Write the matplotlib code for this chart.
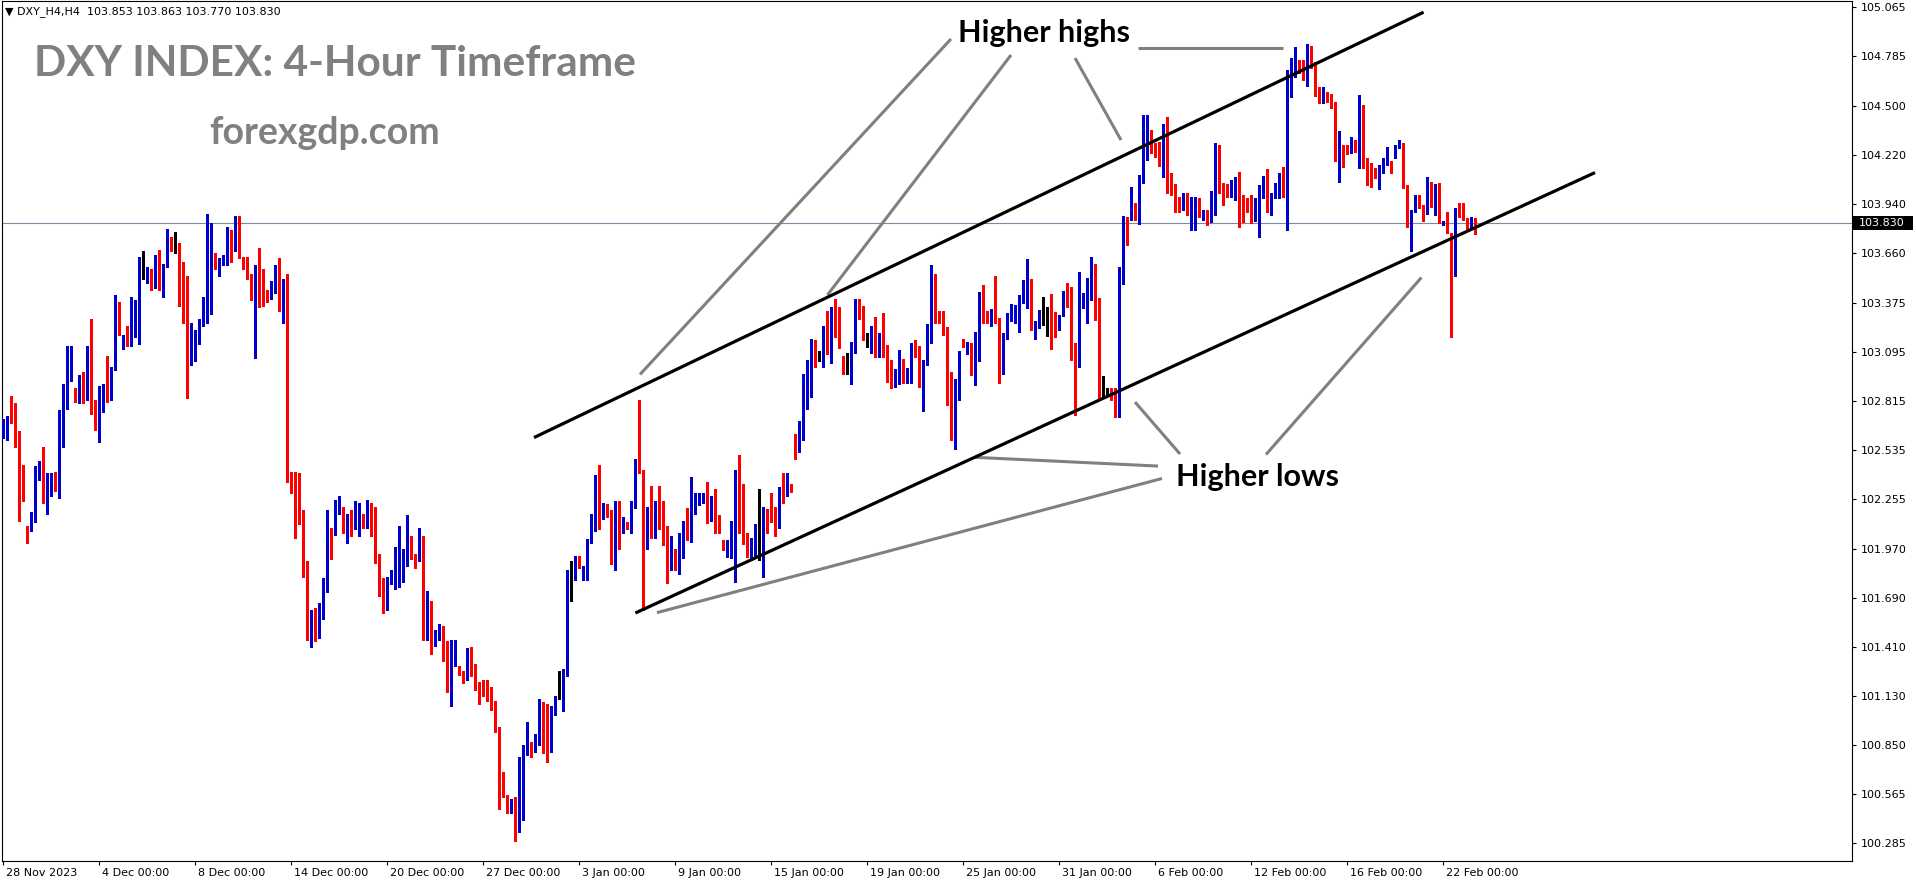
import numpy as np
import matplotlib
matplotlib.use("Agg")
import matplotlib.pyplot as plt
from matplotlib.transforms import blended_transform_factory, ScaledTranslation
from matplotlib.patches import Rectangle

# ---------------- data (H4 candles, 28 Nov 2023 .. 23 Feb 2024) ----------------
opens = [
    102.63, 102.66, 102.72, 102.71, 102.57, 102.32, 102.10, 102.08, 102.15, 102.41,
    102.45, 102.35, 102.28, 102.39, 102.34, 102.73, 102.90, 103.04, 102.88, 102.82,
    102.86, 102.85, 103.13, 102.77, 102.69, 102.83, 102.89, 102.86, 102.99, 103.26,
    103.11, 103.18, 103.13, 103.24, 103.26, 103.52, 103.52, 103.55, 103.46, 103.56,
    103.46, 103.60, 103.73, 103.73, 103.72, 103.39, 103.33, 103.02, 103.12, 103.18,
    103.27, 103.38, 103.60, 103.63, 103.615, 103.62, 103.63, 103.69, 103.67, 103.855,
    103.63, 103.62, 103.53, 103.42, 103.57, 103.50, 103.415, 103.40, 103.44, 103.53,
    103.34, 103.49, 102.33, 102.32, 102.21, 102.14, 101.87, 101.52, 101.58, 101.48,
    101.60, 101.75, 102.09, 102.05, 102.17, 102.21, 102.08, 102.09, 102.08, 102.09,
    102.12, 102.12, 102.16, 102.13, 101.91, 101.75, 101.66, 101.79, 101.78, 101.84,
    101.87, 101.91, 102.00, 101.93, 101.905, 102.01, 101.53, 101.59, 101.425, 101.49,
    101.51, 101.41, 101.17, 101.33, 101.29, 101.26, 101.23, 101.37, 101.28, 101.19,
    101.19, 101.17, 101.11, 101.06, 100.95, 100.64, 100.55, 100.46, 100.53, 100.375,
    100.77, 100.80, 100.85, 100.82, 100.85, 101.09, 101.07, 100.81, 101.07, 101.115,
    101.10, 101.26, 101.83, 101.83, 101.92, 101.84, 101.85, 102.02, 102.17, 102.40,
    102.14, 102.21, 102.19, 101.89, 102.15, 102.105, 102.11, 102.10, 102.20, 102.43,
    102.41, 102.10, 102.105, 102.08, 102.19, 102.175, 102.10, 101.90, 101.94, 101.85,
    101.98, 102.045, 102.03, 102.195, 102.23, 102.236, 102.236, 102.14, 102.236, 102.10,
    102.02, 101.977, 101.98, 101.98, 102.40, 102.33, 102.02, 101.93, 102.02, 102.08,
    102.072, 102.19, 102.17, 102.16, 102.12, 102.295, 102.286, 102.34, 102.56, 102.52,
    102.67, 102.93, 102.99, 103.16, 103.07, 103.07, 103.325, 103.11, 103.27, 103.24,
    103.05, 103.03, 103.02, 103.10, 103.388, 103.315, 103.14, 103.14, 103.216, 103.115,
    103.167, 103.09, 103.025, 102.953, 102.976, 103.006, 102.968, 102.991, 103.12, 103.087,
    102.905, 103.025, 103.15, 103.52, 103.29, 103.265, 103.235, 102.86, 102.60, 102.82,
    103.167, 103.12, 103.13, 102.97, 103.04, 103.38, 103.325, 103.27, 103.306, 103.277,
    103.025, 103.186, 103.27, 103.315, 103.33, 103.38, 103.445, 103.478, 103.18, 103.24,
    103.315, 103.315, 103.315, 103.306, 103.224, 103.306, 103.407, 103.40, 103.10, 103.01,
    103.357, 103.40, 103.464, 103.50, 103.403, 102.88, 102.867, 102.867, 102.858, 102.767,
    103.56, 103.853, 103.853, 103.895, 103.864, 104.082, 104.265, 104.303, 104.278, 104.246,
    104.17, 104.379, 104.115, 104.055, 103.982, 103.925, 103.954, 103.896, 103.896, 103.944,
    103.864, 103.883, 103.883, 103.896, 104.272, 104.045, 104.043, 104.016, 104.062, 104.083,
    103.954, 103.948, 103.969, 103.858, 103.902, 104.024, 104.078, 103.906, 103.988, 104.043,
    104.078, 104.055, 104.649, 104.687, 104.735, 104.735, 104.657, 104.817, 104.748, 104.582,
    104.529, 104.573, 104.569, 104.525, 104.249, 104.272, 104.259, 104.245, 104.291, 104.249,
    104.436, 104.154, 104.173, 104.112, 104.10, 104.119, 104.169, 104.188, 104.234, 104.264,
    104.281, 104.049, 103.826, 103.906, 103.948, 103.925, 103.891, 104.039, 103.948, 103.992,
    103.826, 103.845, 103.776, 103.582, 103.906, 103.896, 103.858, 103.82, 103.853,
]
highs = [
    102.71, 102.73, 102.84, 102.80, 102.64, 102.45, 102.10, 102.18, 102.44, 102.47,
    102.55, 102.40, 102.40, 102.41, 102.76, 102.91, 103.13, 103.13, 102.89, 102.96,
    102.98, 103.13, 103.28, 102.82, 102.90, 102.91, 103.07, 103.01, 103.42, 103.38,
    103.19, 103.24, 103.41, 103.39, 103.64, 103.67, 103.58, 103.57, 103.65, 103.68,
    103.60, 103.80, 103.75, 103.78, 103.72, 103.61, 103.53, 103.26, 103.22, 103.28,
    103.41, 103.885, 103.83, 103.66, 103.63, 103.65, 103.81, 103.79, 103.87, 103.87,
    103.64, 103.64, 103.54, 103.59, 103.69, 103.57, 103.45, 103.50, 103.59, 103.63,
    103.51, 103.54, 102.41, 102.41, 102.40, 102.19, 101.90, 101.62, 101.63, 101.66,
    101.80, 102.19, 102.09, 102.25, 102.27, 102.21, 102.17, 102.19, 102.24, 102.23,
    102.17, 102.25, 102.23, 102.21, 101.94, 101.80, 101.81, 101.85, 101.98, 102.10,
    101.97, 102.16, 102.04, 101.94, 102.09, 102.04, 101.73, 101.67, 101.505, 101.54,
    101.53, 101.44, 101.45, 101.45, 101.30, 101.27, 101.40, 101.41, 101.31, 101.21,
    101.22, 101.22, 101.18, 101.10, 100.95, 100.69, 100.56, 100.54, 100.55, 100.78,
    100.85, 100.98, 100.866, 100.91, 101.11, 101.095, 101.08, 101.07, 101.13, 101.27,
    101.28, 101.85, 101.90, 101.93, 101.93, 101.87, 102.023, 102.17, 102.39, 102.45,
    102.23, 102.225, 102.19, 102.24, 102.24, 102.15, 102.12, 102.24, 102.48, 102.82,
    102.42, 102.21, 102.33, 102.24, 102.33, 102.24, 102.10, 102.04, 101.97, 102.06,
    102.13, 102.20, 102.38, 102.29, 102.29, 102.29, 102.35, 102.27, 102.31, 102.16,
    102.02, 102.02, 102.13, 102.42, 102.505, 102.34, 102.06, 102.03, 102.11, 102.31,
    102.21, 102.195, 102.29, 102.21, 102.32, 102.40, 102.40, 102.34, 102.625, 102.70,
    102.97, 103.05, 103.17, 103.16, 103.10, 103.24, 103.33, 103.35, 103.40, 103.35,
    103.07, 103.09, 103.15, 103.40, 103.40, 103.36, 103.20, 103.24, 103.296, 103.20,
    103.315, 103.134, 103.048, 102.995, 103.106, 103.052, 103.00, 103.144, 103.163, 103.129,
    103.048, 103.254, 103.59, 103.54, 103.33, 103.33, 103.235, 102.98, 102.94, 103.10,
    103.17, 103.15, 103.144, 103.21, 103.44, 103.48, 103.33, 103.34, 103.53, 103.287,
    103.205, 103.32, 103.37, 103.363, 103.42, 103.506, 103.624, 103.514, 103.27, 103.334,
    103.407, 103.353, 103.426, 103.325, 103.306, 103.445, 103.49, 103.468, 103.144, 103.554,
    103.43, 103.515, 103.635, 103.597, 103.403, 102.957, 102.886, 102.886, 102.886, 103.58,
    103.874, 103.868, 104.04, 103.944, 104.106, 104.45, 104.45, 104.364, 104.287, 104.297,
    104.398, 104.436, 104.115, 104.055, 103.982, 104.001, 104.001, 103.982, 103.982, 103.973,
    103.906, 103.906, 104.015, 104.287, 104.278, 104.058, 104.055, 104.078, 104.093, 104.125,
    103.992, 103.973, 103.992, 103.973, 104.049, 104.10, 104.138, 104.001, 104.058, 104.115,
    104.15, 104.706, 104.773, 104.836, 104.764, 104.764, 104.855, 104.844, 104.754, 104.607,
    104.607, 104.58, 104.569, 104.525, 104.36, 104.278, 104.278, 104.325, 104.306, 104.563,
    104.506, 104.201, 104.173, 104.144, 104.163, 104.201, 104.264, 104.188, 104.278, 104.306,
    104.287, 104.049, 103.906, 103.992, 103.992, 103.935, 104.097, 104.068, 104.055, 104.062,
    103.845, 103.896, 103.776, 103.915, 103.948, 103.948, 103.858, 103.868, 103.863,
]
lows = [
    102.60, 102.59, 102.69, 102.55, 102.13, 102.24, 102.00, 102.07, 102.12, 102.36,
    102.23, 102.17, 102.27, 102.30, 102.26, 102.55, 102.77, 102.93, 102.81, 102.80,
    102.80, 102.82, 102.74, 102.65, 102.58, 102.75, 102.81, 102.82, 102.99, 103.19,
    103.11, 103.13, 103.13, 103.18, 103.14, 103.51, 103.49, 103.45, 103.46, 103.45,
    103.41, 103.58, 103.67, 103.66, 103.36, 103.26, 102.83, 103.02, 103.04, 103.14,
    103.24, 103.26, 103.31, 103.57, 103.53, 103.59, 103.59, 103.61, 103.67, 103.63,
    103.57, 103.51, 103.39, 103.06, 103.35, 103.36, 103.38, 103.40, 103.43, 103.33,
    103.26, 102.35, 102.29, 102.03, 102.11, 101.81, 101.45, 101.41, 101.44, 101.46,
    101.57, 101.72, 101.91, 102.05, 102.17, 102.06, 102.00, 102.04, 102.08, 102.04,
    102.09, 102.09, 102.04, 101.89, 101.70, 101.60, 101.62, 101.77, 101.74, 101.75,
    101.78, 101.87, 101.91, 101.86, 101.90, 101.45, 101.45, 101.37, 101.413, 101.45,
    101.33, 101.15, 101.07, 101.30, 101.25, 101.20, 101.22, 101.24, 101.16, 101.08,
    101.13, 101.10, 101.05, 100.92, 100.48, 100.55, 100.46, 100.46, 100.30, 100.35,
    100.42, 100.79, 100.78, 100.81, 100.85, 100.80, 100.75, 100.81, 101.02, 101.11,
    101.04, 101.24, 101.67, 101.79, 101.86, 101.79, 101.79, 102.00, 102.07, 102.08,
    102.14, 102.15, 101.88, 101.85, 101.97, 102.06, 102.08, 102.06, 102.20, 102.40,
    101.62, 101.97, 102.03, 102.03, 102.08, 101.99, 101.775, 101.85, 101.85, 101.825,
    101.915, 102.02, 102.01, 102.17, 102.22, 102.23, 102.115, 102.13, 102.06, 102.06,
    101.96, 101.92, 101.915, 101.78, 102.06, 101.996, 101.92, 101.905, 101.92, 101.905,
    101.81, 102.06, 102.12, 102.04, 102.09, 102.23, 102.27, 102.295, 102.48, 102.52,
    102.59, 102.77, 102.835, 103.01, 103.04, 103.01, 103.08, 103.03, 103.18, 103.115,
    102.97, 102.97, 102.91, 103.09, 103.28, 103.16, 103.12, 103.09, 103.064, 103.068,
    103.064, 102.925, 102.89, 102.896, 102.91, 102.919, 102.915, 102.915, 103.068, 102.896,
    102.759, 103.02, 103.148, 103.26, 103.26, 103.19, 102.79, 102.59, 102.54, 102.82,
    103.12, 103.08, 102.963, 102.905, 103.04, 103.26, 103.26, 103.24, 103.26, 102.915,
    102.97, 103.17, 103.27, 103.26, 103.21, 103.372, 103.344, 103.22, 103.17, 103.23,
    103.25, 103.186, 103.11, 103.18, 103.22, 103.30, 103.353, 103.048, 102.734, 103.01,
    103.344, 103.26, 103.39, 103.277, 102.83, 102.84, 102.848, 102.82, 102.725, 102.72,
    103.483, 103.706, 103.849, 103.849, 103.826, 104.059, 104.192, 104.23, 104.211, 104.158,
    104.097, 104.001, 103.992, 103.896, 103.896, 103.906, 103.877, 103.791, 103.791, 103.868,
    103.849, 103.82, 103.839, 103.877, 104.001, 103.935, 103.982, 103.982, 103.963, 103.81,
    103.839, 103.896, 103.83, 103.845, 103.75, 103.973, 103.896, 103.877, 103.973, 103.973,
    103.978, 103.791, 104.554, 104.668, 104.687, 104.649, 104.615, 104.716, 104.558, 104.52,
    104.52, 104.525, 104.487, 104.188, 104.068, 104.15, 104.226, 104.234, 104.24, 104.144,
    104.144, 104.049, 104.036, 104.087, 104.024, 104.115, 104.163, 104.115, 104.201, 104.259,
    104.03, 103.81, 103.673, 103.896, 103.915, 103.845, 103.883, 103.925, 103.877, 103.834,
    103.82, 103.772, 103.178, 103.528, 103.868, 103.849, 103.791, 103.81, 103.770,
]
closes = [
    102.66, 102.71, 102.70, 102.57, 102.32, 102.28, 102.08, 102.14, 102.41, 102.45,
    102.35, 102.39, 102.39, 102.35, 102.73, 102.90, 103.04, 103.05, 102.83, 102.86,
    102.85, 103.12, 102.76, 102.74, 102.83, 102.89, 102.86, 102.99, 103.27, 103.20,
    103.18, 103.13, 103.24, 103.27, 103.52, 103.52, 103.53, 103.46, 103.56, 103.46,
    103.60, 103.76, 103.72, 103.73, 103.39, 103.33, 103.02, 103.23, 103.19, 103.27,
    103.38, 103.61, 103.63, 103.59, 103.63, 103.64, 103.70, 103.68, 103.85, 103.67,
    103.62, 103.52, 103.42, 103.57, 103.50, 103.40, 103.40, 103.44, 103.53, 103.34,
    103.49, 102.55, 102.31, 102.21, 102.11, 101.87, 101.52, 101.58, 101.48, 101.60,
    101.75, 102.09, 102.06, 102.14, 102.21, 102.08, 102.09, 102.08, 102.10, 102.12,
    102.10, 102.16, 102.13, 101.89, 101.75, 101.66, 101.79, 101.83, 101.85, 101.885,
    101.91, 102.04, 101.93, 101.905, 102.00, 101.54, 101.59, 101.37, 101.495, 101.51,
    101.41, 101.18, 101.33, 101.36, 101.26, 101.23, 101.37, 101.28, 101.19, 101.10,
    101.16, 101.11, 101.05, 100.95, 100.63, 100.61, 100.46, 100.53, 100.375, 100.78,
    100.80, 100.90, 100.81, 100.86, 101.09, 101.07, 100.80, 101.07, 101.12, 101.115,
    101.26, 101.83, 101.83, 101.925, 101.87, 101.85, 102.02, 102.166, 102.30, 102.10,
    102.21, 102.17, 101.89, 102.15, 102.11, 102.13, 102.09, 102.21, 102.44, 102.42,
    102.10, 102.14, 102.08, 102.19, 102.175, 102.10, 101.90, 102.01, 101.85, 102.05,
    102.05, 102.035, 102.195, 102.23, 102.233, 102.25, 102.14, 102.236, 102.09, 102.07,
    101.97, 101.99, 102.11, 102.41, 102.34, 102.06, 101.93, 102.02, 102.08, 102.08,
    102.19, 102.07, 102.16, 102.12, 102.294, 102.29, 102.34, 102.295, 102.515, 102.67,
    102.93, 102.995, 103.16, 103.07, 103.07, 103.22, 103.16, 103.27, 103.20, 103.125,
    103.02, 103.03, 103.10, 103.38, 103.316, 103.17, 103.14, 103.21, 103.115, 103.167,
    103.064, 103.014, 102.95, 102.976, 103.006, 102.953, 102.991, 103.125, 103.077, 102.905,
    103.025, 103.157, 103.53, 103.34, 103.26, 103.22, 102.85, 102.61, 102.82, 103.03,
    103.125, 103.13, 102.97, 103.04, 103.38, 103.27, 103.27, 103.306, 103.277, 103.02,
    103.186, 103.27, 103.32, 103.33, 103.38, 103.449, 103.483, 103.26, 103.243, 103.325,
    103.315, 103.315, 103.29, 103.197, 103.306, 103.407, 103.40, 103.096, 103.007, 103.32,
    103.395, 103.464, 103.506, 103.40, 102.88, 102.88, 102.867, 102.84, 102.767, 103.56,
    103.855, 103.742, 103.895, 103.864, 104.093, 104.303, 104.303, 104.278, 104.246, 104.17,
    104.373, 104.049, 104.001, 103.982, 103.915, 103.963, 103.891, 103.906, 103.954, 103.896,
    103.877, 103.877, 103.906, 104.272, 104.039, 103.992, 104.016, 104.062, 104.083, 103.948,
    103.944, 103.925, 103.864, 103.906, 104.036, 104.078, 103.906, 103.988, 104.039, 104.078,
    104.055, 104.697, 104.754, 104.752, 104.697, 104.659, 104.817, 104.748, 104.563, 104.525,
    104.578, 104.563, 104.52, 104.245, 104.278, 104.154, 104.24, 104.295, 104.249, 104.443,
    104.154, 104.125, 104.106, 104.093, 104.131, 104.182, 104.182, 104.119, 104.268, 104.272,
    104.049, 103.826, 103.906, 103.954, 103.925, 103.891, 104.039, 103.948, 103.992, 103.915,
    103.839, 103.776, 103.578, 103.896, 103.891, 103.852, 103.82, 103.858, 103.830,
]

date_tick_bars = [0, 24, 48, 72, 96, 120, 144, 168, 192, 216, 240, 264, 288, 312, 336, 360]
date_tick_labels = ["28 Nov 2023", "4 Dec 00:00", "8 Dec 00:00", "14 Dec 00:00", "20 Dec 00:00",
                    "27 Dec 00:00", "3 Jan 00:00", "9 Jan 00:00", "15 Jan 00:00", "19 Jan 00:00",
                    "25 Jan 00:00", "31 Jan 00:00", "6 Feb 00:00", "12 Feb 00:00", "16 Feb 00:00",
                    "22 Feb 00:00"]
price_ticks = [105.065, 104.785, 104.500, 104.220, 103.940, 103.660, 103.375, 103.095, 102.815,
               102.535, 102.255, 101.970, 101.690, 101.410, 101.130, 100.850, 100.565, 100.285]
last_price = 103.830
header_text = "\u25BC DXY_H4,H4  103.853 103.863 103.770 103.830"
title_text = "DXY INDEX: 4-Hour Timeframe"
site_text = "forexgdp.com"

# channel and pointer lines, as (bar index, price) end points
channel_upper = ([132.75, 355.15], [102.605, 105.037])
channel_lower = ([158.1, 398.0], [101.602, 104.120])
highs_pointers = [([237.0, 159.25], [104.884, 102.966]),
                  ([252.0, 206.1], [104.792, 103.420]),
                  ([268.0, 279.5], [104.775, 104.306]),
                  ([283.75, 320.0], [104.834, 104.834])]
lows_pointers = [([283.0, 294.25], [102.808, 102.511]),
                 ([354.6, 315.75], [103.52, 102.508]),
                 ([243.0, 288.75], [102.492, 102.442]),
                 ([163.5, 289.75], [101.604, 102.371])]
label_highs = (260.25, 104.864, "Higher highs")
label_lows = (313.75, 102.327, "Higher lows")

# ---------------- figure ----------------
W, H, DPI = 1916, 884, 100
fig = plt.figure(figsize=(W / DPI, H / DPI), dpi=DPI, facecolor="white")
ax_left, ax_right, ax_top, ax_bot = 2, 1852, 1, 861
ax = fig.add_axes([ax_left / W, 1 - ax_bot / H, (ax_right - ax_left) / W, (ax_bot - ax_top) / H])
ax.set_facecolor("white")
ax.set_xlim(-0.25, 462.25)
ax.set_ylim(100.184, 105.101)

BLUE = "#0000CD"
RED = "#FF0000"

o = np.array(opens); hh = np.array(highs); ll = np.array(lows); c = np.array(closes)
hh = np.maximum(hh, np.maximum(o, c))
ll = np.minimum(ll, np.minimum(o, c))
x = np.arange(len(o))
cols = np.where(c > o, BLUE, np.where(c < o, RED, "black"))
one_px = (105.101 - 100.184) / (ax_bot - ax_top)
bot = np.minimum(o, c)
hgt = np.abs(c - o)
small = hgt < one_px
bot = np.where(small, (o + c) / 2 - one_px / 2, bot)
hgt = np.where(small, one_px, hgt)

ax.axhline(last_price, color="#7A8C9E", lw=0.8, zorder=1)
ax.vlines(x, ll, hh, colors=cols, linewidth=0.8, antialiased=False, zorder=3)
ax.bar(x, hgt, bottom=bot, width=0.75, color=cols, linewidth=0, antialiased=False, zorder=4)

ax.plot(*channel_upper, color="black", lw=2.3, solid_capstyle="butt", zorder=6)
ax.plot(*channel_lower, color="black", lw=2.3, solid_capstyle="butt", zorder=6)
for xs, ys in highs_pointers + lows_pointers:
    ax.plot(xs, ys, color="#808080", lw=2.2, solid_capstyle="butt", zorder=5)

for lx, ly, s in (label_highs, label_lows):
    ax.text(lx, ly, s, fontsize=22, fontweight="bold", family="Lato", color="black",
            ha="center", va="baseline", zorder=7)

# axes styling
for sp in ax.spines.values():
    sp.set_color("black")
    sp.set_linewidth(0.8)
ax.yaxis.tick_right()
ax.set_yticks(price_ticks)
ax.set_yticklabels([f"{v:.3f}" for v in price_ticks])
ax.set_xticks(date_tick_bars)
ax.set_xticklabels(date_tick_labels)
ax.tick_params(axis="both", direction="out", length=3, width=0.8, labelsize=8, colors="black")
ax.tick_params(axis="y", pad=3)
ax.tick_params(axis="x", pad=2)
off = ScaledTranslation(2 / 72, 0, fig.dpi_scale_trans)
for lab in ax.get_xticklabels():
    lab.set_horizontalalignment("left")
    lab.set_transform(lab.get_transform() + off)

# current price box on the axis
btr = blended_transform_factory(ax.transAxes, ax.transData)
ax.add_patch(Rectangle((1.0005, last_price - 7 * one_px), 60 / (ax_right - ax_left), 14 * one_px,
                       transform=btr, facecolor="black", edgecolor="none", clip_on=False, zorder=8))
ax.text(1.0 + 7 / (ax_right - ax_left), last_price, f"{last_price:.3f}", transform=btr, color="white",
        fontsize=8, ha="left", va="center", clip_on=False, zorder=9)

# header / titles
fig.text(5 / W, 1 - 12 / H, header_text, fontsize=8, ha="left", va="center", color="black")
fig.text(335 / W, 1 - 76 / H, title_text, fontsize=30.5, fontweight="bold", family="Lato",
         color="#808080", ha="center", va="baseline")
fig.text(325 / W, 1 - 144 / H, site_text, fontsize=27, fontweight="bold", family="Lato",
         color="#808080", ha="center", va="baseline")

fig.savefig("out.png", dpi=DPI, facecolor="white")
